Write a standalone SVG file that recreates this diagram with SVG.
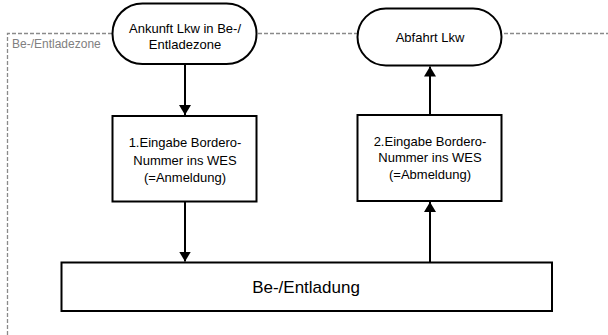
<svg xmlns="http://www.w3.org/2000/svg" width="608" height="335" viewBox="0 0 608 335">
<style>
.node{fill:#fff;stroke:#000;stroke-width:2}
.t{font-family:"Liberation Sans",Arial,sans-serif;font-size:13px;fill:#000;text-anchor:middle}
.zone{fill:none;stroke:#8a8a8a;stroke-width:1.3;stroke-dasharray:4 2}
.edge{stroke:#000;stroke-width:2;fill:none}
</style>
<defs>
<marker id="ah" viewBox="0 0 10 12" refX="10" refY="6" markerWidth="10" markerHeight="12" markerUnits="userSpaceOnUse" orient="auto">
<path d="M0,0 L10,6 L0,12 Z" fill="#000"/>
</marker>
</defs>
<rect width="608" height="335" fill="#fff"/>
<g id="zone">
<path class="zone" d="M7.5,335 V33.5 H608"/>
<text x="12" y="47.5" style="font-family:'Liberation Sans',Arial,sans-serif;font-size:12px;fill:#808080">Be-/Entladezone</text>
</g>
<g id="connectors">
<path class="edge" d="M185,64 V115" marker-end="url(#ah)"/>
<path class="edge" d="M185,201.5 V261.5" marker-end="url(#ah)"/>
<path class="edge" d="M430,262.5 V202" marker-end="url(#ah)"/>
<path class="edge" d="M430,115 V66.5" marker-end="url(#ah)"/>
</g>
<g id="ankunft">
<rect class="node" x="112.5" y="3.5" width="144" height="60.5" rx="30" ry="30"/>
<text class="t" x="185" y="32.5">Ankunft Lkw in Be-/</text>
<text class="t" x="185" y="49">Entladezone</text>
</g>
<g id="abfahrt">
<rect class="node" x="357.5" y="8.5" width="144" height="57" rx="28.5" ry="28.5"/>
<text class="t" x="430" y="41.5">Abfahrt Lkw</text>
</g>
<g id="eingabe1">
<rect class="node" x="112.5" y="116" width="144" height="85.5"/>
<text class="t" x="185" y="147">1.Eingabe Bordero-</text>
<text class="t" x="185" y="164.5">Nummer ins WES</text>
<text class="t" x="185" y="181.5">(=Anmeldung)</text>
</g>
<g id="eingabe2">
<rect class="node" x="357.5" y="115" width="144" height="86"/>
<text class="t" x="430" y="146">2.Eingabe Bordero-</text>
<text class="t" x="430" y="162">Nummer ins WES</text>
<text class="t" x="430" y="179">(=Abmeldung)</text>
</g>
<g id="entladung">
<rect class="node" x="61.5" y="262.5" width="490.5" height="48.5"/>
<text class="t" x="306" y="293" style="font-size:17px">Be-/Entladung</text>
</g>
</svg>
